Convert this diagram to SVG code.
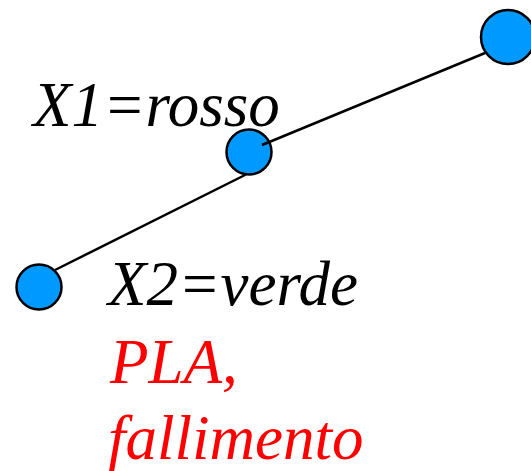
<svg xmlns="http://www.w3.org/2000/svg" width="531" height="471" viewBox="0 0 531 471">
<style>
.node{fill:#0099FF;stroke:#000;stroke-width:2.5}
.edge{stroke:#000;stroke-width:2.5;fill:none}
.t{font-family:"Liberation Serif",serif;font-style:italic;font-size:63px}
</style>
<rect width="531" height="471" fill="#fff"/>
<g id="n1"><circle class="node" cx="508" cy="37" r="27"/></g>
<g id="n2"><circle class="node" cx="249" cy="152" r="22.5"/></g>
<g id="n3"><circle class="node" cx="39" cy="287" r="22.5"/></g>
<g id="edges">
<line class="edge" x1="262" y1="145" x2="485" y2="53"/>
<line class="edge" x1="246" y1="174.5" x2="55" y2="270"/>
</g>
<text class="t" x="33" y="126" fill="#000">X1=rosso</text>
<text class="t" x="108" y="305" fill="#000">X2=verde</text>
<text class="t" x="110" y="383" fill="#FF0000">PLA,</text>
<text class="t" x="108" y="459" fill="#FF0000">fallimento</text>
</svg>
